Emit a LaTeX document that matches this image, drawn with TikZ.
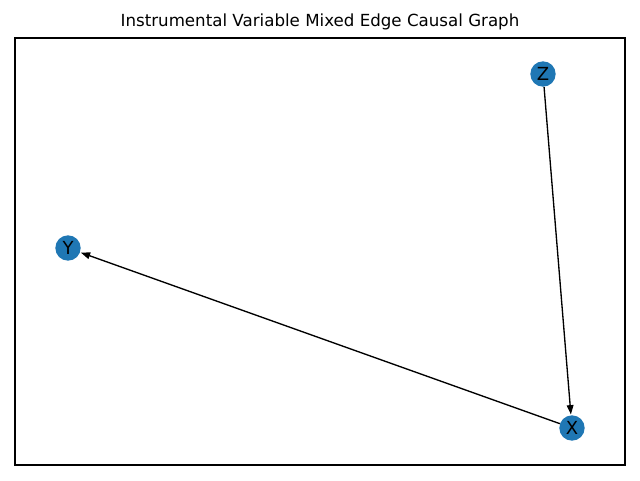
\documentclass[tikz,border=0pt]{standalone}
\usepackage{fontspec}
\setmainfont{DejaVu Sans}
\usetikzlibrary{arrows.meta}
\begin{document}
\begin{tikzpicture}[x=0.75pt,y=-0.75pt,
  vnode/.style={circle,fill={rgb,255:red,31;green,119;blue,180},minimum size=19pt,inner sep=0pt,font=\fontsize{13.5}{15}\selectfont},
  edge/.style={-{Stealth[length=7pt,width=5pt,inset=0pt]},line width=1pt,shorten >=0.5pt}]
\useasboundingbox (0,0) rectangle (640,480);
\draw[line width=0.8pt] (15,38) rectangle (625,465);
\node[font=\fontsize{12.5}{14}\selectfont] (title) at (320,22) {Instrumental Variable Mixed Edge Causal Graph};
\node[vnode] (Z) at (543,74) {Z};
\node[vnode] (Y) at (68,248) {Y};
\node[vnode] (X) at (572,428) {X};
\draw[edge] (Z) -- (X);
\draw[edge] (X) -- (Y);
\end{tikzpicture}
\end{document}
